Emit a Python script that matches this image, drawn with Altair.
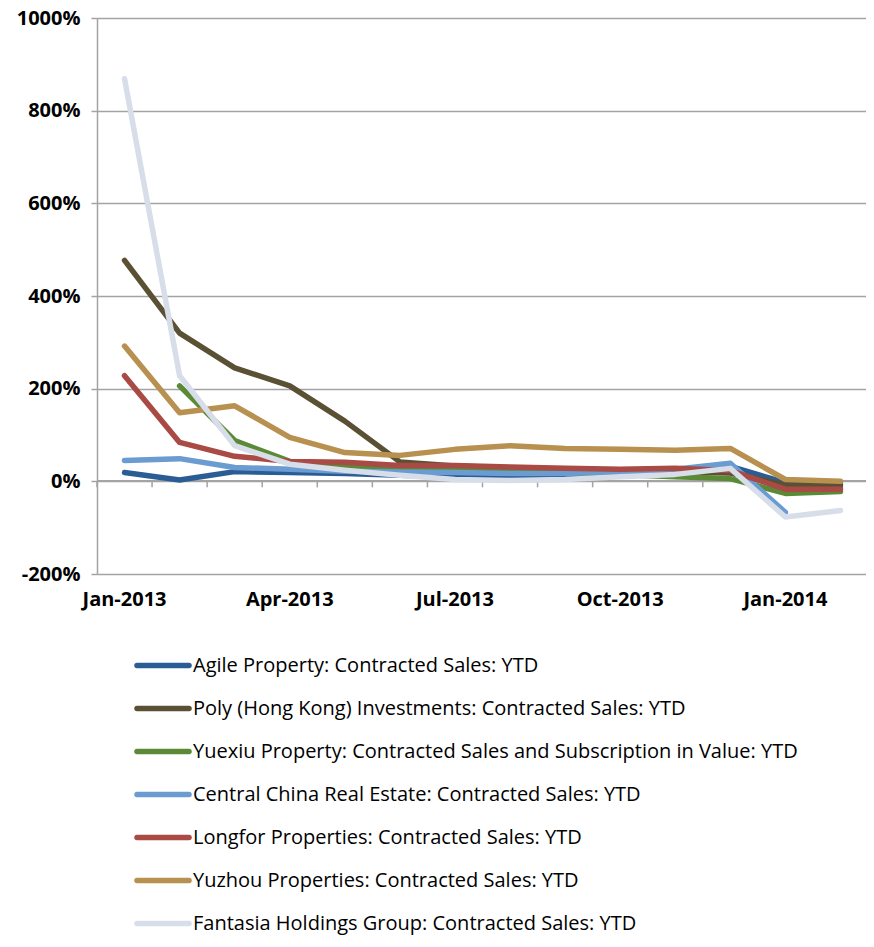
import altair as alt
import pandas as pd

months = ["Jan-2013", "Feb-2013", "Mar-2013", "Apr-2013", "May-2013", "Jun-2013",
          "Jul-2013", "Aug-2013", "Sep-2013", "Oct-2013", "Nov-2013", "Dec-2013",
          "Jan-2014", "Feb-2014"]
label_months = ["Jan-2013", "Apr-2013", "Jul-2013", "Oct-2013", "Jan-2014"]

series_names = [
    "Agile Property: Contracted Sales: YTD",
    "Poly (Hong Kong) Investments: Contracted Sales: YTD",
    "Yuexiu Property: Contracted Sales and Subscription in Value: YTD",
    "Central China Real Estate: Contracted Sales: YTD",
    "Longfor Properties: Contracted Sales: YTD",
    "Yuzhou Properties: Contracted Sales: YTD",
    "Fantasia Holdings Group: Contracted Sales: YTD",
]
colors = ["#2b5d95", "#5a5034", "#5b8a36", "#6a9bd1", "#a94a45", "#b8904f", "#d7deea"]

# values in percent
agile = [19, 3, 21, 19, 17, 13, 10, 12, 14, 16, 18, 32, -3, -12]
poly = [477, 320, 245, 206, 130, 42, 33, 29, 26, 23, 21, 18, -8, -7]
yuexiu = [None, 206, 88, 43, 32, 28, 28, 22, 18, 15, 10, 6, -26, -22]
central = [45, 49, 30, 26, 22, 20, 19, 17, 17, 21, 26, 39, -67, None]
longfor = [228, 84, 54, 43, 41, 34, 34, 31, 28, 26, 28, 23, -17, -17]
yuzhou = [292, 148, 163, 95, 62, 56, 69, 77, 71, 69, 67, 71, 4, 0]
fantasia = [869, 228, 77, 37, 24, 13, 4, 2, 4, 10, 15, 28, -77, -63]

all_vals = [agile, poly, yuexiu, central, longfor, yuzhou, fantasia]

rows = []
for i, (name, vals) in enumerate(zip(series_names, all_vals)):
    for m, v in zip(months, vals):
        if v is not None:
            rows.append({"month": m, "series": name, "value": v / 100.0, "k": i})
df = pd.DataFrame(rows)
tick_df = pd.DataFrame({"month": months})
legend_df = pd.DataFrame({"series": series_names})

grey = "#a3a3a3"
color_scale = alt.Scale(domain=series_names, range=colors)
x_scale = alt.Scale(type="band", domain=months, paddingInner=0, paddingOuter=0)
y_scale = alt.Scale(domain=[-2, 10], nice=False, zero=False)

x_axis = alt.Axis(title=None, values=label_months, ticks=False, domain=False,
                  labelAngle=0, labelFont="Open Sans", labelFontWeight="bold",
                  labelFontSize=20, labelColor="#000000", labelPadding=15, grid=False)

lines = alt.Chart(df).mark_line(strokeWidth=5.5, strokeCap="round", strokeJoin="round").encode(
    x=alt.X("month:N", scale=x_scale, bandPosition=0.5, axis=x_axis),
    y=alt.Y("value:Q", scale=y_scale,
            axis=alt.Axis(title=None, values=[-2, 0, 2, 4, 6, 8, 10],
                          labelExpr="toString(round(datum.value * 100)) + '%'",
                          grid=True, gridColor=grey, gridWidth=1.5,
                          domainColor=grey, domainWidth=1.5, tickColor=grey, tickWidth=1.5,
                          tickSize=6, labelPadding=11, labelFont="Open Sans",
                          labelFontWeight="bold", labelFontSize=20, labelColor="#000000",
                          minExtent=89)),
    color=alt.Color("series:N", scale=color_scale, legend=None),
    detail="k:O",
)

zero_line = alt.Chart(tick_df).mark_rule(color=grey, strokeWidth=1.5).encode(
    y=alt.datum(0, scale=y_scale)
)

ticks_left = alt.Chart(tick_df).mark_rule(color=grey, strokeWidth=1.5).encode(
    x=alt.X("month:N", scale=x_scale, bandPosition=0, axis=x_axis),
    y=alt.datum(0),
    y2=alt.datum(-0.13),
)
ticks_right = alt.Chart(tick_df[tick_df["month"] == months[-1]]).mark_rule(
    color=grey, strokeWidth=1.5).encode(
    x=alt.X("month:N", scale=x_scale, bandPosition=1, axis=x_axis),
    y=alt.datum(0),
    y2=alt.datum(-0.13),
)

main = alt.layer(zero_line, ticks_left, ticks_right, lines).properties(width=771, height=556)

leg_y = alt.Y("series:N", sort=series_names,
              scale=alt.Scale(type="band", paddingInner=0, paddingOuter=0), axis=None)
leg_sym = alt.Chart(legend_df).mark_rule(strokeWidth=5.5, strokeCap="round").encode(
    x=alt.value(40), x2=alt.value(92), y=leg_y,
    color=alt.Color("series:N", scale=color_scale, legend=None),
)
leg_txt = alt.Chart(legend_df).mark_text(
    align="left", baseline="middle", font="Open Sans", fontSize=20, color="#000000"
).encode(x=alt.value(96), y=leg_y, text="series:N")
legend_chart = alt.layer(leg_sym, leg_txt).properties(width=700, height=301)

chart = alt.vconcat(main, legend_chart, spacing=35).properties(
    padding={"left": 0, "top": 0, "right": -3, "bottom": -8}
).configure_view(stroke=None)

chart.save("out.html", embed_options={"renderer": "svg", "actions": False})
